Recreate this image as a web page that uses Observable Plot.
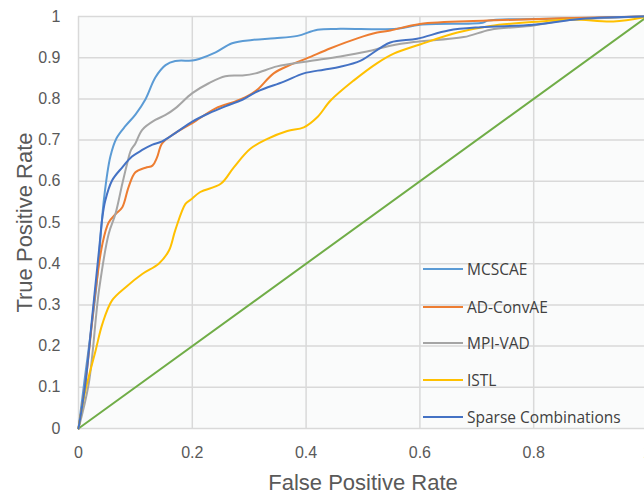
<!DOCTYPE html>
<html>
<head>
<meta charset="utf-8">
<script src="https://cdn.jsdelivr.net/npm/d3@7"></script>
<script src="https://cdn.jsdelivr.net/npm/@observablehq/plot@0.6"></script>
<style>
  html, body { margin: 0; padding: 0; background: #fff; overflow: hidden; }
  #wrap { position: relative; width: 644px; height: 496px; }
  #legend { position: absolute; left: 423px; top: 0; font-family: "Open Sans", "Liberation Sans", sans-serif; font-size: 15.5px; color: #404040; }
  .item { position: absolute; left: 0; display: flex; align-items: center; white-space: nowrap; transform: translateY(-50%); }
  .sw { width: 40px; height: 2px; margin-right: 4px; }
</style>
</head>
<body>
<div id="wrap"><div id="legend"></div></div>
<script>
const seriesNames = ["MCSCAE", "AD-ConvAE", "MPI-VAD", "ISTL", "Sparse Combinations"];
const seriesColors = ["#5B9BD5", "#ED7D31", "#A5A5A5", "#FFC000", "#4472C4"];
const diagonalColor = "#70AD47";

const mcscaeX = [0,0.01,0.031,0.045,0.056,0.067,0.083,0.1,0.118,0.135,0.153,0.17,0.2,0.212,0.241,0.27,0.305,0.345,0.385,0.42,0.46,0.56,0.6,0.71,0.72,0.85,1];
const mcscaeY = [0,0.11,0.34,0.56,0.66,0.705,0.735,0.762,0.80,0.852,0.882,0.892,0.893,0.897,0.913,0.935,0.943,0.947,0.953,0.968,0.97,0.97,0.98,0.985,0.99,0.995,1];

const adconvX = [0,0.012,0.03,0.042,0.053,0.065,0.077,0.088,0.1,0.118,0.13,0.138,0.147,0.17,0.2,0.241,0.276,0.296,0.314,0.343,0.373,0.402,0.443,0.49,0.525,0.548,0.6,0.718,0.85,1];
const adconvY = [0,0.108,0.335,0.448,0.50,0.52,0.537,0.586,0.622,0.633,0.638,0.658,0.692,0.717,0.741,0.777,0.794,0.806,0.822,0.862,0.883,0.899,0.923,0.947,0.961,0.966,0.982,0.99,0.996,1];

const mpiX = [0,0.018,0.036,0.053,0.065,0.077,0.085,0.092,0.1,0.112,0.135,0.153,0.17,0.2,0.229,0.258,0.288,0.311,0.349,0.402,0.46,0.507,0.548,0.589,0.677,0.724,0.80,0.852,1];
const mpiY = [0,0.109,0.335,0.472,0.521,0.594,0.64,0.675,0.692,0.725,0.749,0.761,0.777,0.814,0.838,0.855,0.857,0.862,0.879,0.891,0.903,0.915,0.929,0.938,0.95,0.968,0.978,0.99,1];

const istlX = [0,0.012,0.03,0.042,0.059,0.083,0.112,0.141,0.159,0.17,0.188,0.197,0.214,0.25,0.273,0.302,0.332,0.367,0.396,0.42,0.443,0.484,0.525,0.554,0.6,0.666,0.724,0.812,0.87,0.94,1];
const istlY = [0,0.092,0.189,0.254,0.311,0.343,0.375,0.40,0.432,0.481,0.545,0.555,0.574,0.594,0.634,0.679,0.703,0.722,0.731,0.756,0.796,0.845,0.887,0.91,0.932,0.961,0.977,0.988,0.993,0.988,1];

const sparseX = [0,0.012,0.024,0.036,0.042,0.047,0.059,0.077,0.094,0.112,0.13,0.147,0.17,0.2,0.229,0.258,0.288,0.314,0.361,0.396,0.431,0.46,0.496,0.548,0.595,0.65,0.707,0.80,0.882,1];
const sparseY = [0,0.108,0.27,0.432,0.513,0.553,0.602,0.634,0.66,0.676,0.689,0.697,0.717,0.745,0.765,0.782,0.798,0.818,0.842,0.862,0.871,0.878,0.893,0.937,0.946,0.966,0.974,0.98,0.994,1];

const diagonalX = [0, 1];
const diagonalY = [0, 1];

const xTicks = [0, 0.2, 0.4, 0.6, 0.8, 1];
const yTicks = [0, 0.1, 0.2, 0.3, 0.4, 0.5, 0.6, 0.7, 0.8, 0.9, 1];
const xTitle = "False Positive Rate";
const yTitle = "True Positive Rate";

const seriesXs = [mcscaeX, adconvX, mpiX, istlX, sparseX];
const seriesYs = [mcscaeY, adconvY, mpiY, istlY, sparseY];
const rows = [];
seriesNames.forEach((name, i) => {
  seriesXs[i].forEach((x, j) => rows.push({series: name, x, y: seriesYs[i][j]}));
});
const diag = diagonalX.map((x, i) => ({x, y: diagonalY[i]}));

const fmt = d3.format("~g");
const chart = Plot.plot({
  width: 644,
  height: 496,
  marginLeft: 78,
  marginTop: 16,
  marginBottom: 68,
  marginRight: -3,
  style: {fontFamily: "'Liberation Sans', Arial, sans-serif", fontSize: "16px", color: "#595959", background: "transparent"},
  x: {domain: [0, 1], ticks: xTicks, tickFormat: fmt, tickSize: 0, tickPadding: 18, label: null},
  y: {domain: [0, 1], ticks: yTicks, tickFormat: fmt, tickSize: 0, tickPadding: 18, label: null},
  color: {domain: seriesNames, range: seriesColors},
  marks: [
    Plot.frame({fill: "#fafbfb", stroke: null}),
    Plot.gridX(xTicks, {stroke: "#d9d9d9", strokeOpacity: 1, strokeWidth: 1.5}),
    Plot.gridY(yTicks, {stroke: "#d9d9d9", strokeOpacity: 1, strokeWidth: 1.5}),
    Plot.axisX({ticks: xTicks, tickFormat: fmt, tickSize: 0, tickPadding: 18, fontSize: 16, fill: "#595959", label: null}),
    Plot.axisY({ticks: yTicks, tickFormat: fmt, tickSize: 0, tickPadding: 18, fontSize: 16, fill: "#595959", label: null}),
    Plot.line(diag, {x: "x", y: "y", stroke: diagonalColor, strokeWidth: 2}),
    Plot.line(rows, {x: "x", y: "y", z: "series", stroke: "series", strokeWidth: 2, curve: "catmull-rom"}),
    Plot.text([xTitle], {frameAnchor: "bottom", dy: 54, lineAnchor: "middle", textAnchor: "middle", fontSize: 22, fill: "#595959"}),
    Plot.text([yTitle], {frameAnchor: "left", dx: -54, dy: 0, rotate: -90, lineAnchor: "middle", textAnchor: "middle", fontSize: 22, fill: "#595959"})
  ]
});
const wrap = document.getElementById("wrap");
wrap.insertBefore(chart, wrap.firstChild);

const legend = document.getElementById("legend");
const legendTops = [269, 307, 343, 380, 417];
seriesNames.forEach((name, i) => {
  const it = document.createElement("div");
  it.className = "item";
  it.style.top = legendTops[i] + "px";
  const sw = document.createElement("span");
  sw.className = "sw";
  sw.style.background = seriesColors[i];
  const tx = document.createElement("span");
  tx.textContent = name;
  it.appendChild(sw); it.appendChild(tx);
  legend.appendChild(it);
});
</script>
</body>
</html>
